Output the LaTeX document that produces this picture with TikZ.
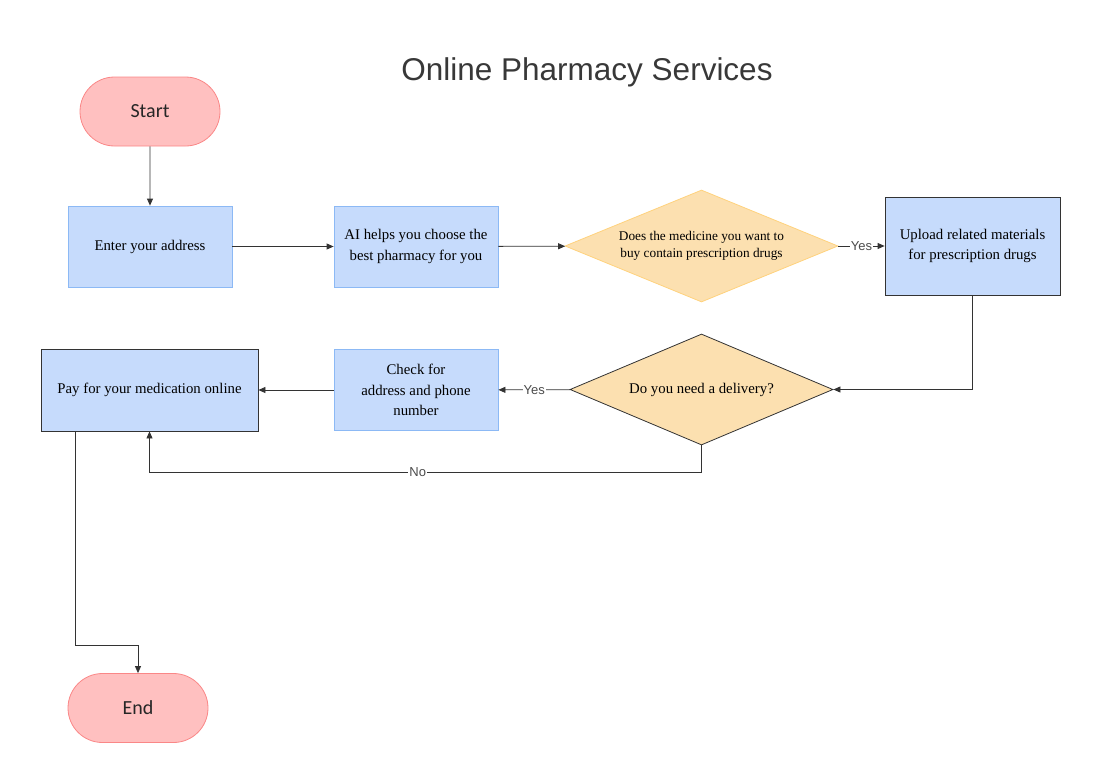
\documentclass[tikz,border=0pt]{standalone}
\usepackage{xcolor}
\usepackage{fontspec}
\setmainfont{Liberation Serif}
\newfontfamily\titlefont{Liberation Sans}
\newfontfamily\termfont{Carlito}
\usetikzlibrary{shapes,arrows.meta,positioning}

\definecolor{termfill}{RGB}{255,192,192}
\definecolor{termline}{RGB}{250,135,135}
\definecolor{boxfill}{RGB}{198,219,252}
\definecolor{boxline}{RGB}{140,185,245}
\definecolor{askfill}{RGB}{252,224,176}
\definecolor{askline}{RGB}{255,210,125}
\definecolor{darkline}{RGB}{51,51,51}

\begin{document}
\begin{tikzpicture}[x=1pt,y=-1pt,
    terminal/.style={rounded rectangle, draw=termline, fill=termfill, line width=0.8pt,
        minimum width=140pt, minimum height=69pt, inner sep=0pt,
        font=\termfont\fontsize{20}{24}\selectfont, text=black!85},
    procbox/.style={rectangle, draw=boxline, fill=boxfill, line width=0.8pt,
        minimum width=164pt, minimum height=81pt, inner sep=0pt, align=center,
        font=\fontsize{14.8}{20.5}\selectfont},
    darkbox/.style={procbox, draw=darkline},
    ask/.style={diamond, draw=askline, fill=askfill, line width=0.8pt, inner sep=0pt,
        align=center, font=\fontsize{14.8}{20}\selectfont},
    arr/.style={draw=darkline, line width=0.8pt, -{Triangle[length=7pt,width=6pt]}},
    lbl/.style={fill=white, inner sep=1pt, text=black!70,
        font=\titlefont\fontsize{13}{15}\selectfont}]

    \useasboundingbox (0,0) rectangle (1099,776);

    % Title
    \node (title) at (587,72) {\titlefont\fontsize{31.5}{36}\selectfont\color{black!78}Online Pharmacy Services};

    % Start and End
    \node (start) at (150,111.5) [terminal] {Start};
    \node (finish) at (138,708) [terminal] {End};

    % First row
    \node (addr) at (150,246.5) [procbox] {Enter your address};
    \node (ai) at (416,246.5) [procbox] {AI helps you choose the\\best pharmacy for you};
    \node (rx) at (701.5,246) [ask, aspect=2.44, minimum width=273pt, minimum height=112pt,
        font=\fontsize{13.3}{16.5}\selectfont] {Does the medicine you want to\\buy contain prescription drugs};
    \node (upload) at (972.5,246) [darkbox, minimum width=175pt, minimum height=98pt] {Upload related materials\\for prescription drugs};

    % Second row
    \node (deliv) at (701.5,389.5) [ask, draw=darkline, aspect=2.37, minimum width=263pt, minimum height=111pt] {Do you need a delivery?};
    \node (check) at (416,390) [procbox] {Check for\\address and phone\\number};
    \node (pay) at (149.5,390) [darkbox, minimum width=217pt, minimum height=82pt] {Pay for your medication online};

    % Connectors
    \draw[arr] (start) -- (addr);
    \draw[arr] (addr) -- (ai);
    \draw[arr] (ai) -- (rx);
    \draw[arr] (rx) -- node[lbl] {Yes} (upload);
    \draw[arr] (upload.south) |- (deliv.east);
    \draw[arr] (deliv) -- node[lbl] {Yes} (check);
    \draw[arr] (check) -- (pay);
    \draw[arr] (deliv.south) -- ++(0,27) -| node[lbl, pos=0.257] {No} (pay.south);
    \coordinate (bend) at (75,645);
    \draw[arr] (pay.south -| bend) -- (bend) -| (finish.north);
\end{tikzpicture}
\end{document}
